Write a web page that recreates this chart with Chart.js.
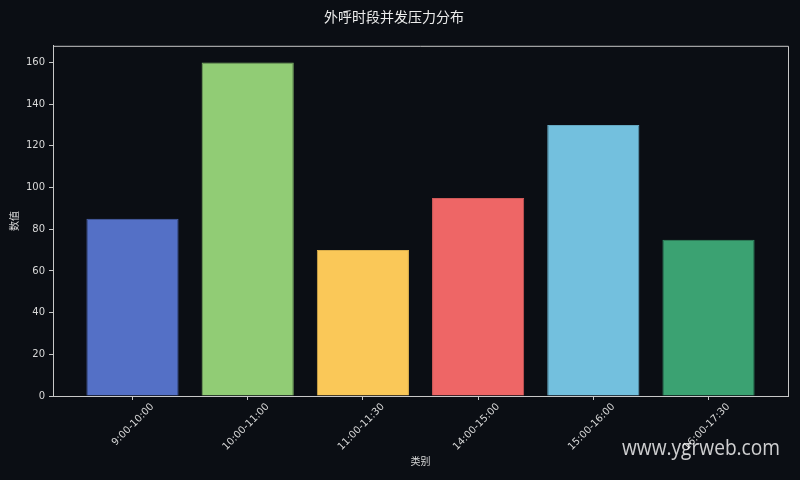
<!DOCTYPE html>
<html>
<head>
<meta charset="utf-8">
<script src="https://cdn.jsdelivr.net/npm/chart.js@4"></script>
<style>
  html, body { margin: 0; padding: 0; background: #0b0e14; }
  #wrap { width: 800px; height: 480px; }
</style>
</head>
<body>
<div id="wrap"><canvas id="myChart" width="800" height="480"></canvas></div>
<script>
const slots = ['9:00-10:00', '10:00-11:00', '11:00-11:30', '14:00-15:00', '15:00-16:00', '16:00-17:30']
const values = [85, 160, 70, 95, 130, 75]
const barColors = ['#5470c6', '#91cc75', '#fac858', '#ee6666', '#73c0de', '#3ba272']
const edgeColors = ['#4a62ac', '#7eb266', '#d9ae4c', '#cf5959', '#64a7c1', '#338d63']
const yTicks = [0, 20, 40, 60, 80, 100, 120, 140, 160]

const FONT = '"DejaVu Sans", "Noto Sans CJK SC", sans-serif'
const textColor = '#d8d8d8'
const axisColor = '#c8c8c8'

// top and right frame lines + watermark
const framePlugin = {
    id: 'frame',
    afterDraw(chart) {
        const { ctx, chartArea } = chart
        ctx.save()
        ctx.strokeStyle = axisColor
        ctx.lineWidth = 1
        ctx.beginPath()
        ctx.moveTo(chartArea.left, chartArea.top + 0.5)
        ctx.lineTo(chartArea.right + 0.5, chartArea.top + 0.5)
        ctx.lineTo(chartArea.right + 0.5, chartArea.bottom)
        ctx.stroke()
        ctx.font = '22px "Open Sans", sans-serif'
        ctx.fillStyle = 'rgba(255,255,255,0.8)'
        ctx.textAlign = 'right'
        ctx.textBaseline = 'alphabetic'
        ctx.fillText('www.ygrweb.com', 780, 455, 158)
        ctx.restore()
    }
}

const ctx = document.getElementById('myChart').getContext('2d')
const myChart = new Chart(ctx, {
    type: 'bar',
    data: {
        datasets: [{
            data: values.map((v, i) => ({ x: i, y: v })),
            backgroundColor: barColors,
            borderColor: edgeColors,
            borderWidth: 1,
            categoryPercentage: 1,
            barPercentage: 0.8
        }]
    },
    plugins: [framePlugin],
    options: {
        responsive: false,
        animation: false,
        layout: { padding: { left: 0, right: 12, top: 0, bottom: 0 } },
        plugins: {
            legend: { display: false },
            tooltip: { enabled: false },
            title: {
                display: true,
                text: '外呼时段并发压力分布',
                color: '#ececec',
                font: { family: FONT, size: 14, weight: 'normal' },
                padding: { top: 10, bottom: 19 }
            }
        },
        scales: {
            x: {
                type: 'linear',
                offset: false,
                min: -0.69,
                max: 5.69,
                afterFit: s => { s.height = 84 },
                afterBuildTicks: s => { s.ticks = slots.map((_, i) => ({ value: i })) },
                ticks: {
                    color: textColor,
                    font: { family: FONT, size: 10 },
                    minRotation: 45,
                    maxRotation: 45,
                    autoSkip: false,
                    labelOffset: 20,
                    padding: 1,
                    callback: v => slots[v]
                },
                grid: { display: true, offset: false, drawOnChartArea: false, tickLength: 4, color: axisColor },
                border: { color: axisColor },
                title: {
                    display: true,
                    text: '类别',
                    color: textColor,
                    font: { family: FONT, size: 10 },
                    padding: { top: 0, bottom: 12 }
                }
            },
            y: {
                min: 0,
                max: 168,
                afterFit: s => { s.width = 53 },
                afterBuildTicks: s => { s.ticks = yTicks.map(v => ({ value: v })) },
                ticks: {
                    color: textColor,
                    font: { family: FONT, size: 10 },
                    padding: 4
                },
                grid: { display: true, drawOnChartArea: false, tickLength: 4, color: axisColor },
                border: { color: axisColor },
                title: {
                    display: true,
                    text: '数值',
                    color: textColor,
                    font: { family: FONT, size: 10 },
                    padding: { top: 9, bottom: 0 }
                }
            }
        }
    }
})
</script>
</body>
</html>
